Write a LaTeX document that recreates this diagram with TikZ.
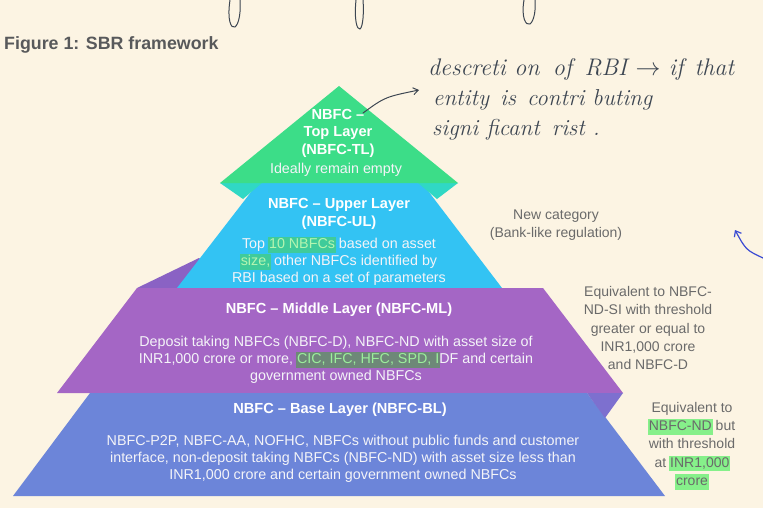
\documentclass[tikz,border=0pt]{standalone}
\usepackage{fontspec}
\newfontfamily\sansf{Liberation Sans}
\usetikzlibrary{arrows.meta}
\definecolor{bg}{HTML}{FCF4E3}
\definecolor{greenT}{HTML}{3CDD88}
\definecolor{tealS}{HTML}{30D8C4}
\definecolor{cyanU}{HTML}{33C3F3}
\definecolor{purpleD}{HTML}{8A62C4}
\definecolor{purpleM}{HTML}{A466C5}
\definecolor{wedgeC}{HTML}{7D70CF}
\definecolor{baseB}{HTML}{6C85D9}
\definecolor{grayT}{HTML}{6A6A6A}
\definecolor{titleG}{HTML}{58595B}
\definecolor{bodyW}{HTML}{F4F4F8}
\definecolor{ink}{HTML}{3D4652}
\definecolor{blueInk}{HTML}{3B4BD3}
\definecolor{hlUp}{HTML}{3FCB9A}
\definecolor{hlUpT}{HTML}{B5F5B0}
\definecolor{hlMid}{HTML}{6E8878}
\definecolor{hlMidT}{HTML}{9BEF9B}
\definecolor{hlSide}{HTML}{86F08A}
\newcommand\hlt[3]{\begingroup\sbox0{\textcolor{#2}{#3}}\rlap{\kern-1pt\textcolor{#1}{\rule[-0.3em]{\dimexpr\wd0+2pt\relax}{1.1em}}}\usebox0\endgroup}
\tikzset{
  ttl/.style={font=\sansf\bfseries\fontsize{14.6}{17.5}\selectfont, text=white, align=center, inner sep=0pt},
  bod/.style={font=\sansf\fontsize{14.3}{17}\selectfont, text=bodyW, align=center, inner sep=0pt},
  side/.style={font=\sansf\fontsize{14}{18.3}\selectfont, text=grayT, align=center, inner sep=0pt},
  hand/.style={font=\rmfamily\itshape\fontsize{23}{28}\selectfont, text=ink, anchor=base west, inner sep=0pt},
  pen/.style={draw=ink, line width=1pt, line cap=round}
}
\begin{document}
\begin{tikzpicture}[x=1pt,y=-1pt]
\fill[bg] (0,0) rectangle (763,508);
\useasboundingbox (0,0) rectangle (763,508);
% pyramid layers
\fill[purpleD] (137,288) -- (199,258) -- (230,288) -- cycle;
\fill[cyanU] (258,183) -- (422,183) -- (502,288) -- (177,288) -- cycle;
\fill[tealS] (220,183) -- (262,183) -- (243,199) -- cycle;
\fill[tealS] (418,183) -- (458,183) -- (437,199) -- cycle;
\fill[greenT] (339,86) -- (458,183) -- (220,183) -- cycle;
\fill[purpleM] (137,288) -- (543,288) -- (623,393) -- (57,393) -- cycle;
\fill[baseB] (90,393) -- (587,393) -- (665,496) -- (13,496) -- cycle;
\fill[wedgeC] (587,393) -- (623,393) -- (605,418) -- cycle;
% title
\node[anchor=west, font=\sansf\bfseries\fontsize{17.8}{20}\selectfont, text=titleG, inner sep=0pt] (title) at (4,45) {Figure 1: SBR framework};
% layer texts
\node[ttl] (tlT) at (338,133) {NBFC –\\Top Layer\\(NBFC-TL)};
\node[bod] (tlB) at (336,170) {Ideally remain empty};
\node[ttl] (ulT) at (339,214) {NBFC – Upper Layer\\(NBFC-UL)};
\node[bod] (ulB) at (339,261) {Top \hlt{hlUp}{hlUpT}{10 NBFCs} based on asset\\\hlt{hlUp}{hlUpT}{size,} other NBFCs identified by\\RBI based on a set of parameters};
\node[ttl] (mlT) at (339,310) {NBFC – Middle Layer (NBFC-ML)};
\node[bod] (mlB) at (336,360) {Deposit taking NBFCs (NBFC-D), NBFC-ND with asset size of\\INR1,000 crore or more, \hlt{hlMid}{hlMidT}{CIC, IFC, HFC, SPD, I}DF and certain\\government owned NBFCs};
\node[ttl] (blT) at (340,410) {NBFC – Base Layer (NBFC-BL)};
\node[bod] (blB) at (343,459) {NBFC-P2P, NBFC-AA, NOFHC, NBFCs without public funds and customer\\interface, non-deposit taking NBFCs (NBFC-ND) with asset size less than\\INR1,000 crore and certain government owned NBFCs};
% side texts
\node[side] (newc) at (556,225) {New category\\(Bank-like regulation)};
\node[side] (eq1) at (648,328) {Equivalent to NBFC-\\ND-SI with threshold\\greater or equal to\\INR1,000 crore\\and NBFC-D};
\node[side] (eq2) at (692,446) {Equivalent to\\\hlt{hlSide}{grayT}{NBFC-ND} but\\with threshold\\at \hlt{hlSide}{grayT}{INR1,000}\\\hlt{hlSide}{grayT}{crore}};
% handwritten note
\node[hand, font=\rmfamily\itshape\fontsize{24}{28}\selectfont] (note1) at (428,76) {descreti on\hspace{5pt} of\hspace{4pt} RBI $\rightarrow$ if\hspace{3pt} that};
\node[hand] (note2) at (433,106) {entity\hspace{3pt} is\hspace{3pt} contri buting};
\node[hand] (note3) at (432,136) {signi ficant\hspace{4pt} rist .};
\coordinate (arrS) at (363,113);
\coordinate (arrE) at (419,90);
\draw[pen, -{Straight Barb[length=5pt,width=7pt]}] (arrS) .. controls (385,97) .. (arrE);
% cut-off pen strokes at the top
\draw[pen] (230,0) .. controls (227,20) and (231,29) .. (235,27) .. controls (239,24) and (241,12) .. (240,0);
\draw[pen] (356,0) .. controls (354,20) and (357,30) .. (360,29) .. controls (363,27) and (364,12) .. (363,0);
\draw[pen] (524,0) .. controls (521,18) and (526,26) .. (530,24) .. controls (534,21) and (536,10) .. (535,0);
% blue pen arrow on the right
\coordinate (bS) at (763,258);
\coordinate (bE) at (735,230);
\draw[draw=blueInk, line width=1.2pt, line cap=round, -{Straight Barb[length=5pt,width=8pt]}] (bS) .. controls (746,250) .. (bE);
\end{tikzpicture}
\end{document}
